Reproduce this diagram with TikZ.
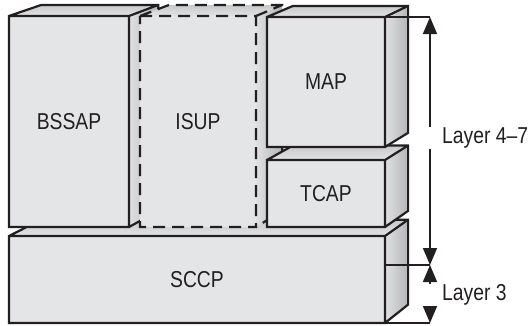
\documentclass[tikz,border=0pt]{standalone}
\usepackage{fontspec}
\setmainfont{Liberation Sans}[FakeStretch=0.84]
\usepackage{tikz}
\usetikzlibrary{calc,arrows.meta,positioning}
\usepackage{xcolor}
\definecolor{ss7ink}{RGB}{35,31,32}
\definecolor{ss7front}{RGB}{228,229,231}
\definecolor{ss7toplight}{RGB}{226,227,229}
\definecolor{ss7topdark}{RGB}{200,201,203}
\definecolor{ss7sidelight}{RGB}{224,225,227}
\definecolor{ss7sidedark}{RGB}{180,181,183}
\newcommand{\depthk}{0.024}
% #1 name, #2 #3 front top-left, #4 #5 front bottom-right, #6 edge style
\newcommand{\layerbox}[6]{%
  \coordinate (#1a) at (#2,#3); \coordinate (#1b) at (#4,#3);
  \coordinate (#1c) at (#4,#5); \coordinate (#1d) at (#2,#5);
  \coordinate (#1A) at ($(#1a)!\depthk!(vp)$); \coordinate (#1B) at ($(#1b)!\depthk!(vp)$);
  \coordinate (#1C) at ($(#1c)!\depthk!(vp)$);
  \shade[top color=ss7topdark,bottom color=ss7toplight] (#1a)--(#1b)--(#1B)--(#1A)--cycle;
  \shade[left color=ss7sidelight,right color=ss7sidedark] (#1b)--(#1c)--(#1C)--(#1B)--cycle;
  \fill[ss7front] (#1a) rectangle (#1c);
  \draw[#6] (#1a)--(#1b)--(#1c)--(#1d)--cycle (#1a)--(#1A)--(#1B)--(#1C)--(#1c) (#1b)--(#1B);
}

\begin{document}
\begin{tikzpicture}[x=1pt,y=-1pt,
  edge/.style={ss7ink,line width=2.2pt},
  ghostedge/.style={edge,dash pattern=on 12pt off 7pt},
  boxlabel/.style={font=\fontsize{23}{27}\selectfont,text=ss7ink,inner sep=0pt},
  dim/.style={ss7ink,line width=1.6pt},
  dimtip/.style={dim,{Triangle[length=17pt,width=14pt]}-{Triangle[length=17pt,width=14pt]}},
  layerlabel/.style={boxlabel,fill=white,anchor=west,inner xsep=14pt,inner ysep=0.5pt}]
  \useasboundingbox (0,0) rectangle (531,325);
  \coordinate (vp) at (1348,-444);
  % stack, back to front
  \layerbox{sccp}{9}{236}{385}{323}{edge}
  \layerbox{bssap}{9}{16}{129}{227}{edge}
  \layerbox{isup}{140}{16}{256}{227}{ghostedge}
  \layerbox{tcap}{267}{160}{385}{227}{edge}
  \layerbox{map}{267}{17}{385}{147}{edge}
  \node[boxlabel] (sccp) at ($(sccpa)!0.5!(sccpc)$) {SCCP};
  \node[boxlabel] (bssap) at ($(bssapa)!0.5!(bssapc)$) {BSSAP};
  \node[boxlabel] (isup) at ($(isupa)!0.5!(isupc)$) {ISUP};
  \node[boxlabel] (tcap) at ($(tcapa)!0.5!(tcapc)$) {TCAP};
  \node[boxlabel] (map) at ($(mapa)!0.5!(mapc)$) {MAP};
  % layer dimensions
  \coordinate (a47t) at (430,17); \coordinate (a3t) at (430,265); \coordinate (a3b) at (430,323);
  \coordinate (sccpm) at (385,265);
  \draw[dim] (mapb) -- (a47t); \draw[dim] (sccpm) -- (a3t); \draw[dim] (sccpc) -- (a3b);
  \draw[dimtip] (a47t) -- (a3t);
  \draw[dimtip] (a3t) -- (a3b);
  \node[layerlabel] (l47) at (428,138) {Layer 4–7};
  \node[layerlabel] (l3) at (428,295) {Layer 3};
\end{tikzpicture}
\end{document}
